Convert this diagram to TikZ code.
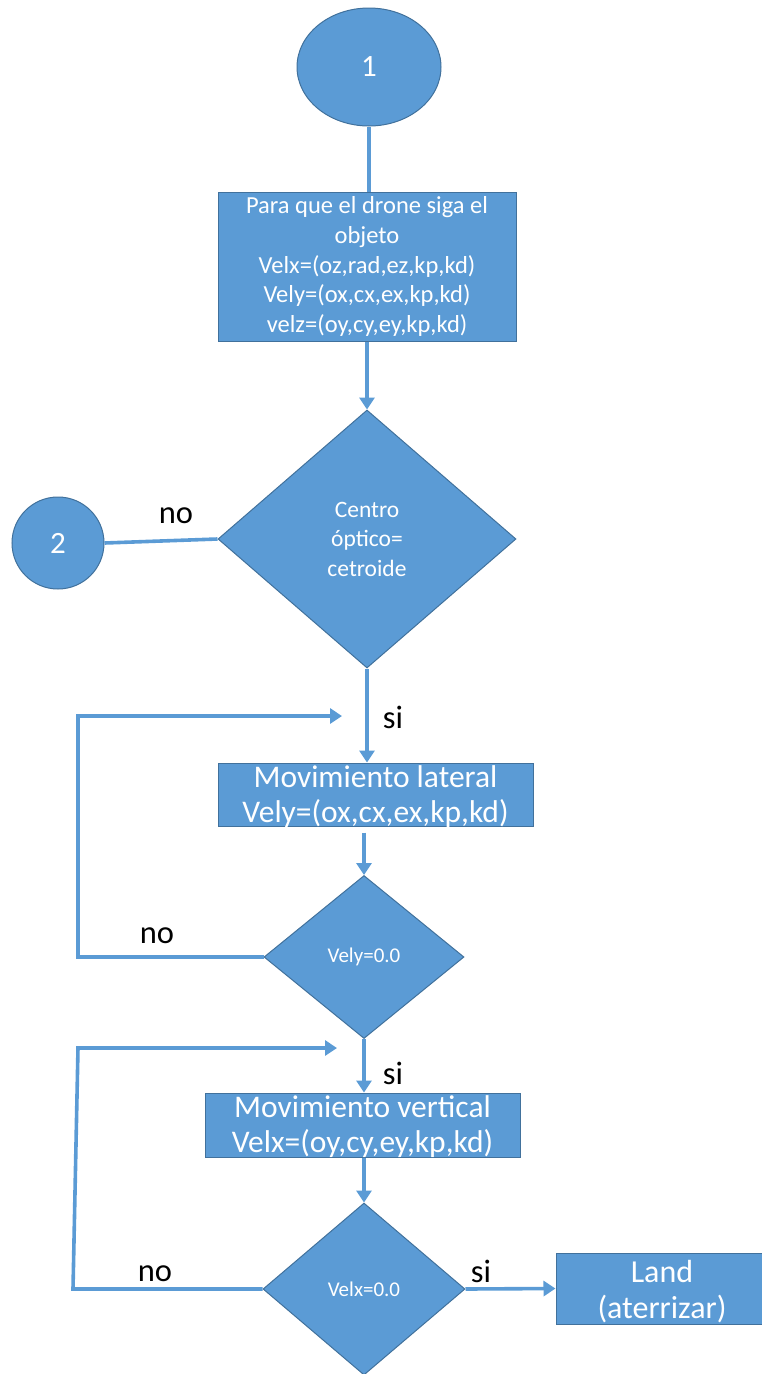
\documentclass[tikz,border=0pt]{standalone}
\usepackage{fontspec}
\setmainfont{Carlito}
\usetikzlibrary{shapes.geometric,arrows.meta}
\definecolor{boxfill}{HTML}{5B9BD5}
\definecolor{boxline}{HTML}{41719C}
\tikzset{
  shapebase/.style={fill=boxfill,draw=boxline,line width=1pt,text=white,inner sep=0pt,align=center},
  procbox/.style={shapebase,rectangle},
  decision/.style={shapebase,diamond},
  terminal/.style={shapebase,ellipse},
  conn/.style={draw=boxfill,line width=3.6pt,line join=miter},
  arr/.style={conn,-{Triangle[width=15pt,length=12pt]}},
  tag/.style={text=black,font=\fontsize{32.5}{38}\selectfont,anchor=base,inner sep=0pt},
}
\begin{document}
\begin{tikzpicture}[x=1pt,y=-1pt]
\useasboundingbox (0,0) rectangle (762,1374);

% start connector and first block
\node[terminal,minimum width=144pt,minimum height=118pt,font=\fontsize{31}{36}\selectfont] (s1) at (369,67) {1};
\node[procbox,minimum width=298pt,minimum height=149pt,font=\fontsize{24.5}{29.7}\selectfont] (b1) at (367,266.5)
  {Para que el drone siga el\\objeto\\Velx=(oz,rad,ez,kp,kd)\\Vely=(ox,cx,ex,kp,kd)\\velz=(oy,cy,ey,kp,kd)};

% centring test
\node[decision,minimum width=298pt,minimum height=258pt,font=\fontsize{23.5}{29.5}\selectfont] (d1) at (367,539)
  {Centro\\óptico=\\cetroide};
\node[shapebase,circle,minimum size=92pt,font=\fontsize{31}{36}\selectfont] (s2) at (58,543) {2};

% lateral movement (text sits low, descenders run past the bottom edge)
\node[procbox,minimum width=315pt,minimum height=63pt,text height=55pt,text depth=0pt,
      font=\fontsize{31.5}{35}\selectfont] (b2) at (375.5,794.5)
  {Movimiento lateral\\Vely=(ox,cx,ex,kp,kd)};
\node[decision,minimum width=200pt,minimum height=163pt,font=\fontsize{21}{24}\selectfont] (d2) at (364,957) {Vely=0.0};

% vertical movement
\node[procbox,minimum width=315pt,minimum height=64pt,text height=54pt,text depth=0pt,
      font=\fontsize{31.5}{35}\selectfont] (b3) at (362.5,1125)
  {Movimiento vertical\\Velx=(oy,cy,ey,kp,kd)};
\node[decision,minimum width=202pt,minimum height=172pt,font=\fontsize{21}{24}\selectfont] (d3) at (364,1289) {Velx=0.0};

% landing
\node[procbox,minimum width=212pt,minimum height=71pt,text height=59pt,text depth=0pt,
      font=\fontsize{32}{36}\selectfont] (land) at (662,1288.5)
  {Land\\(aterrizar)};

% loop corners
\coordinate (l1a) at (78,957);
\coordinate (l1b) at (78,716);
\coordinate (l1e) at (342,716);
\coordinate (l2a) at (73,1289);
\coordinate (l2b) at (78,1048);
\coordinate (l2e) at (337,1048);

% connectors
\draw[conn] (s1.south) -- (s1.south |- b1.north);
\draw[arr] (b1.south) -- (d1.north);
\draw[conn] (s2.east) -- (d1.west);
\draw[arr] (d1.south) -- (b2.north -| d1.south);
\draw[arr,shorten <=6pt] (b2.south -| d2.north) -- (d2.north);
\draw[arr] (d2.west) -- (l1a) -- (l1b) -- (l1e);
\draw[arr] (d2.south) -- (b3.north -| d2.south);
\draw[arr] (b3.south -| d3.north) -- (d3.north);
\draw[arr] (d3.west) -- (l2a) -- (l2b) -- (l2e);
\draw[arr] (d3.east) -- (land.west);

% branch labels
\node[tag] (n1) at (176,523) {no};
\node[tag] (y1) at (393,728) {si};
\node[tag] (n2) at (157,943) {no};
\node[tag] (y2) at (393,1084) {si};
\node[tag] (n3) at (155,1281) {no};
\node[tag] (y3) at (481,1282) {si};
\end{tikzpicture}
\end{document}
